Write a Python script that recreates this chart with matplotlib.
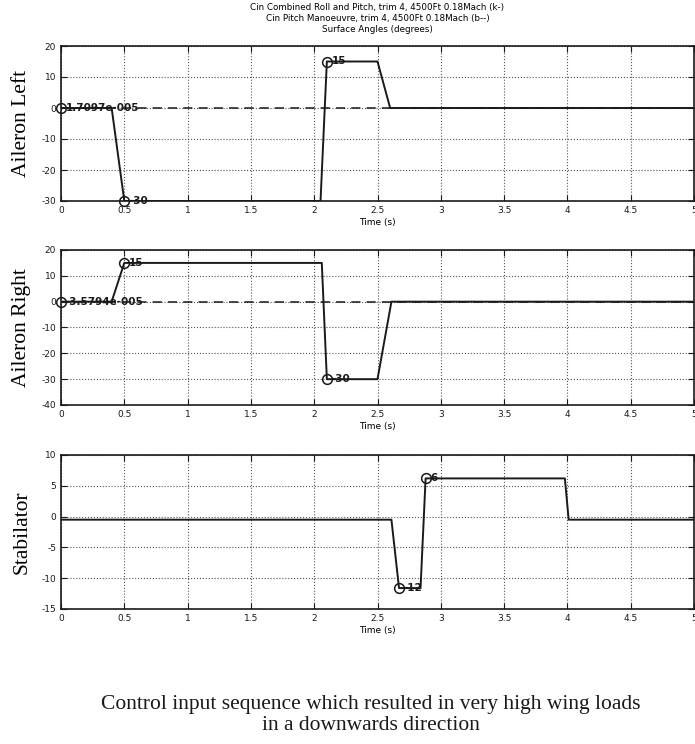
import numpy as np
import matplotlib
matplotlib.use("Agg")
import matplotlib.pyplot as plt

plt.rcParams["axes.unicode_minus"] = False

# time axis ticks
xticks = [0, 0.5, 1, 1.5, 2, 2.5, 3, 3.5, 4, 4.5, 5]
xticklabels = ["0", "0.5", "1", "1.5", "2", "2.5", "3", "3.5", "4", "4.5", "5"]

# aileron left (k-) and pitch manoeuvre reference (b--)
t_left = [0, 0.4, 0.5, 2.05, 2.1, 2.5, 2.6, 5]
ail_left = [0, 0, -30, -30, 15, 15, 0, 0]
t_left_ref = [0, 5]
ail_left_ref = [0, 0]
left_pts_t = [0, 0.5, 2.1]
left_pts_v = [0, -30, 15]
left_pts_lbl = ["1.7097e-005", "-30", "15"]

# aileron right
t_right = [0, 0.4, 0.5, 2.06, 2.1, 2.5, 2.61, 5]
ail_right = [0, 0, 15, 15, -30, -30, 0, 0]
t_right_ref = [0, 5]
ail_right_ref = [0, 0]
right_pts_t = [0, 0.5, 2.1]
right_pts_v = [0, 15, -30]
right_pts_lbl = ["-3.5794e-005", "15", "-30"]

# stabilator
t_stab = [0, 2.61, 2.67, 2.84, 2.88, 3.98, 4.01, 5]
stab = [-0.5, -0.5, -11.6, -11.6, 6.2, 6.2, -0.5, -0.5]
stab_pts_t = [2.67, 2.88]
stab_pts_v = [-11.6, 6.2]
stab_pts_lbl = ["-12", "6"]

titles = ["Cin Combined Roll and Pitch, trim 4, 4500Ft 0.18Mach (k-)",
          "Cin Pitch Manoeuvre, trim 4, 4500Ft 0.18Mach (b--)",
          "Surface Angles (degrees)"]
caption = "Control input sequence which resulted in very high wing loads\nin a downwards direction"

fig = plt.figure(figsize=(6.95, 7.44), dpi=100)

W, H = 695.0, 744.0
left_px, right_px = 61, 694
panels = [
    dict(top=46, bot=201, ylim=(-30, 20), yticks=[-30, -20, -10, 0, 10, 20], ylabel="Aileron Left",
         t=t_left, v=ail_left, rt=t_left_ref, rv=ail_left_ref,
         pt=left_pts_t, pv=left_pts_v, pl=left_pts_lbl),
    dict(top=250, bot=405, ylim=(-40, 20), yticks=[-40, -30, -20, -10, 0, 10, 20], ylabel="Aileron Right",
         t=t_right, v=ail_right, rt=t_right_ref, rv=ail_right_ref,
         pt=right_pts_t, pv=right_pts_v, pl=right_pts_lbl),
    dict(top=455, bot=609, ylim=(-15, 10), yticks=[-15, -10, -5, 0, 5, 10], ylabel="Stabilator",
         t=t_stab, v=stab, rt=None, rv=None,
         pt=stab_pts_t, pv=stab_pts_v, pl=stab_pts_lbl),
]

ink = "#1a1a1a"
for i, p in enumerate(panels):
    ax = fig.add_axes([left_px / W, 1 - p["bot"] / H, (right_px - left_px) / W, (p["bot"] - p["top"]) / H])
    if p["rt"] is not None:
        ax.plot(p["rt"], p["rv"], linestyle=(0, (6, 4)), color=ink, lw=1.1)
    ax.plot(p["t"], p["v"], color=ink, lw=1.4)
    ax.plot(p["pt"], p["pv"], "o", mfc="none", mec=ink, ms=7, mew=1.1, clip_on=False, zorder=5)
    for x, y, s in zip(p["pt"], p["pv"], p["pl"]):
        ax.annotate(s, (x, y), xytext=(3.5, 0), textcoords="offset points", va="center", ha="left",
                    fontsize=7.5, fontweight="bold", color=ink)
    ax.set_xlim(0, 5)
    ax.set_ylim(*p["ylim"])
    ax.set_xticks(xticks)
    ax.set_xticklabels(xticklabels)
    ax.set_yticks(p["yticks"])
    ax.tick_params(direction="in", top=True, right=True, labelsize=6.5, length=4, colors=ink)
    ax.grid(True, linestyle=":", color="#555555", lw=0.8)
    for s in ax.spines.values():
        s.set_linewidth(1.2)
        s.set_color(ink)
    ax.set_xlabel("Time (s)", fontsize=6.5, labelpad=2)
    ax.set_ylabel(p["ylabel"], fontsize=15.5, family="Liberation Serif")
    ax.yaxis.set_label_coords(-0.047, 0.5)
    if i == 0:
        ax.set_title("\n".join(titles), fontsize=6.3, linespacing=1.3, pad=10)

fig.text(371 / W, 1 - 715 / H, caption, ha="center", va="center", fontsize=15.5,
         family="Liberation Serif", linespacing=1.15, color=ink)

fig.savefig("out.png", dpi=100)
